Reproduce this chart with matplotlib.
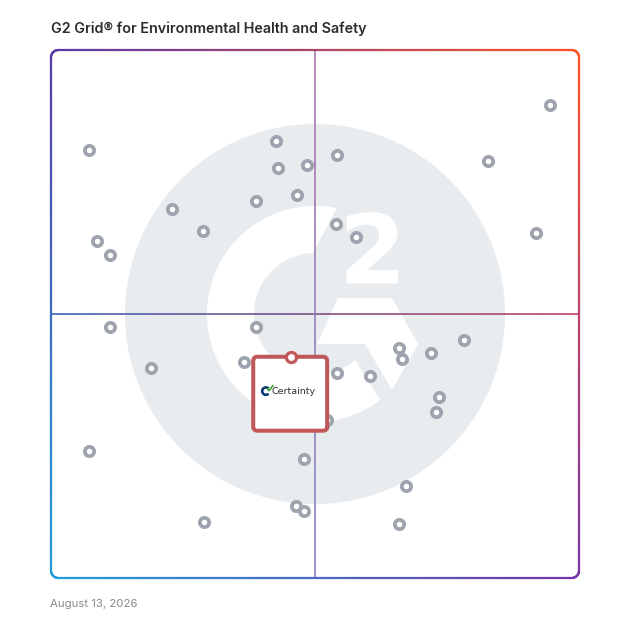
import numpy as np
import matplotlib
matplotlib.use('Agg')
import matplotlib.pyplot as plt
from matplotlib.collections import LineCollection
from matplotlib.patches import Circle, Polygon, FancyBboxPatch, PathPatch, Wedge
from matplotlib.textpath import TextPath
from matplotlib.font_manager import FontProperties
from matplotlib.transforms import Affine2D

title = 'G2 Grid® for Environmental Health and Safety'
date_label = 'August 13, 2026'
highlight_name = 'Certainty'

# product positions on the grid, 0-100 both ways (x: market presence, y: satisfaction)
others_x = [94.5, 7.25, 42.7, 43.0, 48.4, 54.2, 82.7, 23.0, 38.9, 46.6,
            28.8, 8.7, 11.2, 54.0, 57.8, 91.9, 11.1, 38.9, 78.2, 65.9,
            66.4, 71.9, 18.9, 36.6, 54.2, 60.4, 73.5, 72.9, 52.2, 51.5,
            7.25, 48.0, 67.2, 29.0, 46.4, 48.0, 66.0]
others_y = [89.6, 81.1, 82.7, 77.6, 78.3, 80.1, 79.0, 69.9, 71.4, 72.5,
            65.8, 63.8, 61.2, 67.0, 64.6, 65.3, 47.6, 47.6, 45.1, 43.6,
            41.5, 42.6, 39.8, 40.9, 38.8, 38.3, 34.3, 31.4, 29.9, 29.0,
            24.1, 22.6, 17.4, 10.7, 13.7, 12.6, 10.2]
highlight_x = 45.5
highlight_y = 41.9

fig = plt.figure(figsize=(6.28, 6.28), dpi=100)
ax = fig.add_axes([51/628, 50/628, 528/628, 528/628])
ax.set_xlim(0, 100)
ax.set_ylim(0, 100)
ax.axis('off')


def bilerp(u, v):
    # corner colours of the frame
    tl = np.array([88, 58, 168]); tr = np.array([255, 82, 38])
    bl = np.array([32, 158, 218]); br = np.array([118, 52, 168])
    top = tl * (1 - u) + tr * u
    bot = bl * (1 - u) + br * u
    return (bot * (1 - v) + top * v) / 255


def arc(cx, cy, r, a0, a1, n=60):
    t = np.radians(np.linspace(a0, a1, n))
    return np.column_stack([cx + r * np.cos(t), cy + r * np.sin(t)])


def gradient_line(pts, c0, c1, lw, z):
    segs = np.stack([pts[:-1], pts[1:]], axis=1)
    f = np.linspace(0, 1, len(segs))[:, None]
    cols = (np.array(c0) * (1 - f) + np.array(c1) * f) / 255
    ax.add_collection(LineCollection(segs, colors=cols, linewidths=lw, zorder=z,
                                     capstyle='butt', clip_on=False))


# G2 watermark
ax.add_patch(Circle((50, 50), 36, color='#E9ECEF', zorder=0, lw=0))
ring = np.vstack([arc(50, 50, 20.45, 78.4, 307.1, 150), arc(50, 50, 11.55, 311.2, 91.9, 150)])
ax.add_patch(Polygon(ring, closed=True, color='white', lw=0, zorder=1))
chevron = [(54.36, 53.03), (64.58, 53.03), (69.51, 44.32), (64.58, 35.61), (59.47, 44.32), (50.38, 44.32)]
ax.add_patch(Polygon(chevron, closed=True, color='white', lw=0, zorder=1))
tp = TextPath((0, 0), '2', size=1, prop=FontProperties(family='DejaVu Sans', weight='bold'))
bb = tp.get_extents()
tr2 = Affine2D().translate(-bb.x0, -bb.y0).scale(9.7 / bb.width, 13.5 / bb.height).translate(56.0, 55.8)
ax.add_patch(PathPatch(tr2.transform_path(tp), color='white', lw=0, zorder=1))

# quadrant lines
xs = np.linspace(0, 100, 200)
gradient_line(np.column_stack([xs, np.full_like(xs, 50)]), (60, 100, 180), (195, 65, 95), 1.2, 2)
gradient_line(np.column_stack([np.full_like(xs, 50), xs[::-1]]), (168, 122, 170), (135, 130, 200), 1.2, 2)

# gradient frame
r = 1.4
pts = np.vstack([
    np.column_stack([np.linspace(r, 100 - r, 200), np.zeros(200)]),
    arc(100 - r, r, r, -90, 0, 20),
    np.column_stack([np.full(200, 100.0), np.linspace(r, 100 - r, 200)]),
    arc(100 - r, 100 - r, r, 0, 90, 20),
    np.column_stack([np.linspace(100 - r, r, 200), np.full(200, 100.0)]),
    arc(r, 100 - r, r, 90, 180, 20),
    np.column_stack([np.zeros(200), np.linspace(100 - r, r, 200)]),
    arc(r, r, r, 180, 270, 20),
])
segs = np.stack([pts[:-1], pts[1:]], axis=1)
mid = segs.mean(axis=1)
cols = np.array([bilerp(u / 100, v / 100) for u, v in mid])
ax.add_collection(LineCollection(segs, colors=cols, linewidths=1.6, zorder=8,
                                 capstyle='round', clip_on=False))

# products
ax.plot(others_x, others_y, 'o', ms=6.7, mfc='white', mec='#9EA3AE', mew=2.7,
        zorder=3, clip_on=False)

# highlighted product card
ax.add_patch(FancyBboxPatch((highlight_x - 7.2, highlight_y - 14), 14, 14,
                            boxstyle='round,pad=0,rounding_size=0.8',
                            fc='white', ec='#C0585A', lw=2.9, zorder=6))
ax.plot([highlight_x], [highlight_y], 'o', ms=7.3, mfc='white', mec='#C0585A',
        mew=2.3, zorder=7)
ax.add_patch(Wedge((40.7, 35.4), 0.95, 45, 315, width=0.5, color='#0B3A6E', zorder=7, lw=0))
ax.plot([40.9, 41.3, 42.1], [35.9, 35.5, 36.5], color='#3DAA35', lw=1.3,
        zorder=7, solid_capstyle='butt')
ax.text(41.8, 35.4, highlight_name, fontsize=6.8, color='#2F2F2F',
        ha='left', va='center', zorder=7)

fig.text(51/628, 1 - 29/628, title, fontsize=10.3, weight='semibold',
         family=['Inter', 'DejaVu Sans'], color='#2B2B2B', va='center', ha='left')
fig.text(50/628, 1 - 604/628, date_label, fontsize=8.2,
         family=['Inter', 'DejaVu Sans'], color='#8A8A8A', va='center', ha='left')

fig.savefig('out.png', dpi=100)
